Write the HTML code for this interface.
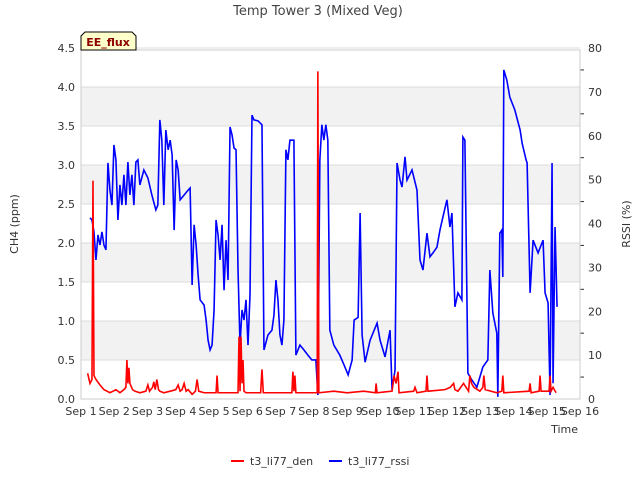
<!DOCTYPE html>
<html><head><meta charset="utf-8"><style>
body{margin:0;background:#fff;}
svg{font-family:"DejaVu Sans","Liberation Sans",sans-serif;}
</style></head><body>
<svg id="c" width="640" height="480" xmlns="http://www.w3.org/2000/svg"></svg>
<script>
const xTickLabels=["Sep 1","Sep 2","Sep 3","Sep 4","Sep 5","Sep 6","Sep 7","Sep 8","Sep 9","Sep 10","Sep 11","Sep 12","Sep 13","Sep 14","Sep 15","Sep 16"];
const leftTicks=[0,0.5,1,1.5,2,2.5,3,3.5,4,4.5];
const rightTicks=[0,10,20,30,40,50,60,70,80];
const rssiDays=[0.27,0.33,0.39,0.45,0.51,0.57,0.63,0.69,0.75,0.81,0.87,0.93,0.99,1.05,1.11,1.17,1.23,1.29,1.35,1.41,1.47,1.53,1.59,1.65,1.71,1.77,1.89,2.01,2.13,2.25,2.31,2.37,2.43,2.49,2.55,2.62,2.68,2.74,2.80,2.86,2.92,2.98,3.10,3.22,3.28,3.34,3.40,3.46,3.52,3.58,3.70,3.76,3.82,3.88,3.94,4.00,4.06,4.12,4.18,4.24,4.30,4.36,4.42,4.48,4.54,4.60,4.66,4.72,4.78,4.84,4.90,4.96,5.02,5.08,5.14,5.20,5.32,5.44,5.50,5.62,5.74,5.80,5.86,5.92,5.98,6.04,6.10,6.16,6.22,6.28,6.40,6.46,6.58,6.70,6.82,6.94,7.06,7.12,7.18,7.24,7.30,7.36,7.42,7.48,7.60,7.78,7.91,8.03,8.15,8.21,8.33,8.39,8.45,8.54,8.69,8.90,8.99,9.14,9.29,9.35,9.44,9.50,9.59,9.65,9.74,9.80,9.95,10.10,10.19,10.28,10.40,10.49,10.58,10.70,10.79,10.88,11.00,11.09,11.15,11.24,11.33,11.45,11.48,11.54,11.63,11.75,11.90,12.08,12.23,12.29,12.38,12.50,12.53,12.59,12.65,12.68,12.71,12.80,12.89,13.04,13.20,13.26,13.38,13.41,13.50,13.59,13.74,13.89,13.95,14.04,14.10,14.16,14.19,14.25,14.31];
const rssiVals=[41.3,40.8,38.1,31.7,37.4,35.1,38.1,35.1,34.0,53.8,47.6,44.2,57.9,54.5,40.8,48.8,44.2,51.1,44.2,54.0,46.5,51.1,44.2,54.0,54.5,48.8,52.2,50.4,46.5,43.1,44.2,63.6,59.0,44.2,61.3,56.8,59.0,55.6,38.5,54.5,52.2,45.4,46.5,47.6,48.1,26.0,39.7,35.1,28.3,22.6,21.4,18.0,13.4,11.2,12.3,20.3,40.8,37.4,31.7,39.7,24.8,36.2,27.1,62.0,60.2,57.2,56.8,29.4,12.3,20.3,18.0,22.6,12.3,23.7,64.7,63.6,63.4,62.5,11.2,14.6,15.7,19.1,27.1,22.6,14.6,12.3,18.0,56.8,54.5,59.0,59.0,10.0,12.3,11.2,10.0,8.9,8.9,0.9,54.5,62.5,59.0,62.5,59.0,15.7,12.3,10.0,7.7,5.5,8.9,18.0,18.6,42.4,14.6,8.4,13.4,17.3,13.4,9.6,15.7,2.1,6.6,53.8,49.9,48.3,55.2,49.9,52.2,47.6,31.7,29.4,37.8,32.4,33.3,34.6,38.5,41.5,45.4,39.2,42.4,21.0,24.2,22.6,59.7,59.0,5.9,4.3,2.7,7.3,8.9,29.4,19.6,15.0,0.5,37.8,38.5,27.8,75.0,72.7,68.8,65.9,61.3,58.3,54.5,53.8,24.2,36.2,33.3,36.2,24.2,21.9,0.9,53.8,3.6,39.2,21.0];
const ch4Days=[0.20,0.27,0.33,0.36,0.39,0.45,0.57,0.69,0.87,1.05,1.17,1.29,1.35,1.38,1.41,1.44,1.47,1.55,1.62,1.77,1.95,2.01,2.06,2.15,2.19,2.23,2.28,2.33,2.37,2.49,2.68,2.85,2.92,2.98,3.04,3.10,3.16,3.22,3.34,3.44,3.49,3.54,3.70,3.88,4.06,4.09,4.12,4.50,4.72,4.75,4.78,4.81,4.84,4.87,4.90,4.96,5.14,5.40,5.44,5.48,6.00,6.34,6.37,6.40,6.43,6.46,7.10,7.12,7.15,7.6,8.0,8.5,8.85,8.87,8.90,9.35,9.41,9.47,9.53,9.56,10.0,10.04,10.10,10.37,10.40,10.43,10.94,11.1,11.20,11.24,11.33,11.5,11.65,11.69,11.74,11.81,11.99,12.08,12.11,12.15,12.50,12.65,12.68,12.71,13.47,13.50,13.53,13.77,13.80,13.83,14.07,14.10,14.13,14.19,14.28];
const ch4Vals=[0.33,0.2,0.25,2.8,0.3,0.25,0.18,0.12,0.08,0.12,0.08,0.12,0.15,0.5,0.2,0.4,0.2,0.12,0.1,0.08,0.1,0.18,0.1,0.15,0.22,0.12,0.25,0.12,0.1,0.08,0.1,0.12,0.18,0.1,0.12,0.2,0.1,0.12,0.06,0.1,0.25,0.1,0.08,0.08,0.08,0.3,0.08,0.08,0.08,0.8,0.1,0.8,0.2,0.5,0.1,0.08,0.08,0.08,0.38,0.08,0.08,0.08,0.35,0.1,0.3,0.08,0.08,4.2,0.08,0.1,0.08,0.1,0.08,0.2,0.08,0.1,0.3,0.2,0.35,0.08,0.1,0.15,0.08,0.1,0.3,0.1,0.12,0.15,0.2,0.12,0.1,0.2,0.1,0.3,0.2,0.15,0.1,0.15,0.3,0.12,0.08,0.1,0.3,0.08,0.1,0.2,0.08,0.1,0.3,0.1,0.1,0.3,0.1,0.15,0.08];
</script>
<script>
const X0=81,X1=580,Y0=50,Y1=399;
const xs=d=>X0+d*(X1-X0)/15;
const yl=v=>Y1-v*(Y1-48)/4.5;
const yr=v=>Y1-v*(Y1-48)/80;
const svg=document.getElementById('c');
const NS='http://www.w3.org/2000/svg';
function mk(t,a,p){const e=document.createElementNS(NS,t);for(const k in a)e.setAttribute(k,a[k]);(p||svg).appendChild(e);return e;}
for(let i=0;i<4;i++){const lo=0.5+i,hi=1+i;
const b=mk('rect',{x:X0,y:yl(hi),width:X1-X0,height:yl(lo)-yl(hi),fill:'#f2f2f2'});

}
leftTicks.forEach(v=>{const g=mk('line',{x1:X0,x2:X1,y1:yl(v),y2:yl(v),stroke:'#dcdcdc','stroke-width':1});


const t=mk('text',{x:X0-6,y:yl(v)+4,'text-anchor':'end','font-size':11,fill:'#333'});t.textContent=v.toFixed(1);

});
rightTicks.forEach(v=>{const t=mk('text',{x:X1+8,y:yr(v)+4,'font-size':11,fill:'#333'});t.textContent=v;

});
for(let v=5;v<80;v+=10){mk('line',{x1:X1,x2:X1+4,y1:yr(v),y2:yr(v),stroke:'#333'});}
const fr=mk('rect',{x:X0,y:Y0,width:X1-X0,height:Y1-Y0,fill:'none',stroke:'#ccc'});


xTickLabels.forEach((l,i)=>{const t=mk('text',{x:xs(i),y:Y1+16,'text-anchor':'middle','font-size':11,fill:'#333'});t.textContent=l;

});
function line(d,v,f,col,name){const n=Math.min(d.length,v.length);const pts=[];for(let i=0;i<n;i++)pts.push(xs(d[i])+','+f(v[i]));
const p=mk('polyline',{points:pts.join(' '),fill:'none',stroke:col,'stroke-width':1.6});

}
line(rssiDays,rssiVals,yr,'#0000ff','rssi-line');
line(ch4Days,ch4Vals,yl,'#ff0000','ch4-line');
function txt(s,a,name){const t=mk('text',a);t.textContent=s;

return t;}
txt('Temp Tower 3 (Mixed Veg)',{x:318,y:15,'text-anchor':'middle','font-size':13,fill:'#444'},'chart-title');
txt('CH4 (ppm)',{x:18,y:224,'text-anchor':'middle','font-size':11,fill:'#333',transform:'rotate(-90 18 224)'},'y-axis-title');
txt('RSSI (%)',{x:630,y:224,'text-anchor':'middle','font-size':11,fill:'#333',transform:'rotate(-90 630 224)'},'y2-axis-title');
txt('Time',{x:578,y:433,'text-anchor':'end','font-size':11,fill:'#333'},'x-axis-title');
const bx=mk('path',{d:'M81,50 L81,36 L85,32 L132,32 L136,36 L136,50 Z',fill:'#ffffcc',stroke:'#000'});


txt('EE_flux',{x:108,y:46,'text-anchor':'middle','font-size':11,'font-weight':'bold',fill:'#8b0000'},'site-label');
const l1=mk('line',{x1:231,x2:244,y1:461,y2:461,stroke:'#ff0000','stroke-width':2});


txt('t3_li77_den',{x:250,y:465,'font-size':11,fill:'#333'},'legend-entry-ch4');
const l2=mk('line',{x1:329,x2:342,y1:461,y2:461,stroke:'#0000ff','stroke-width':2});


txt('t3_li77_rssi',{x:348,y:465,'font-size':11,fill:'#333'},'legend-entry-rssi');
</script>
</body></html>
